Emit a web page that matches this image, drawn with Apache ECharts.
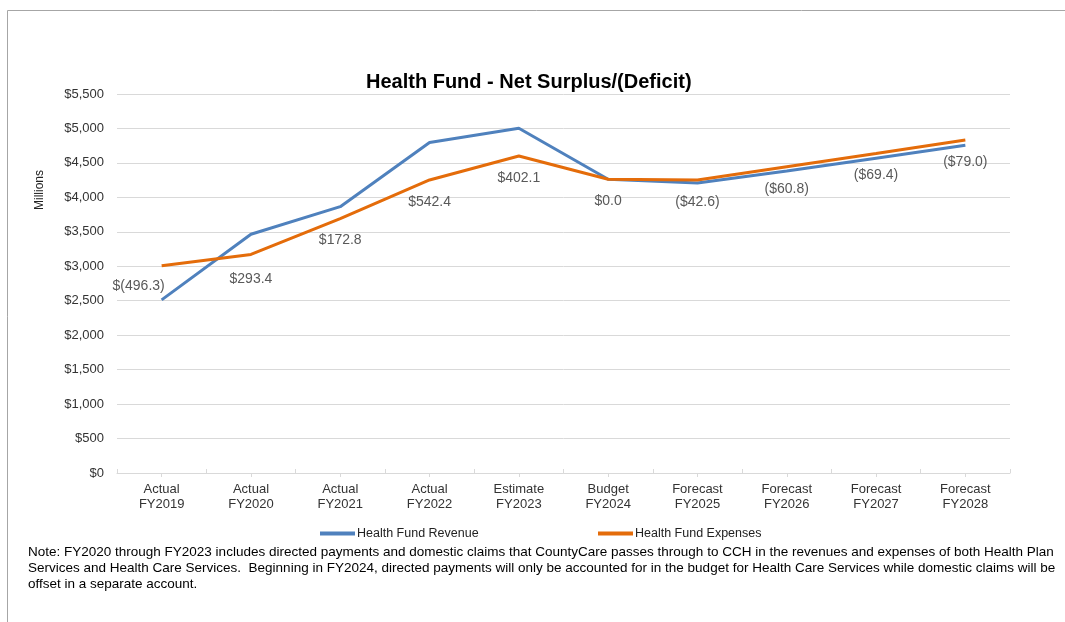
<!DOCTYPE html>
<html>
<head>
<meta charset="utf-8">
<script src="https://cdn.jsdelivr.net/npm/echarts@6/dist/echarts.min.js"></script>
<style>
  html, body { margin: 0; padding: 0; background: #fff; }
  #main { width: 1065px; height: 622px; }
</style>
</head>
<body>
<div id="main"></div>
<script>
// 类别
const categories = ['Actual\nFY2019', 'Actual\nFY2020', 'Actual\nFY2021', 'Actual\nFY2022', 'Estimate\nFY2023',
    'Budget\nFY2024', 'Forecast\nFY2025', 'Forecast\nFY2026', 'Forecast\nFY2027', 'Forecast\nFY2028'];
// 收入/支出 (百万)
const revenue = [2512, 3465, 3865, 4795, 5002, 4262, 4210, 4384, 4569, 4755];
const expenses = [3008, 3172, 3692, 4253, 4600, 4262, 4253, 4445, 4638, 4834];
// 净值标签
const netLabels = ['$(496.3)', '$293.4', '$172.8', '$542.4', '$402.1', '$0.0', '($42.6)', '($60.8)', '($69.4)', '($79.0)'];
// y轴刻度
const yTicks = [0, 500, 1000, 1500, 2000, 2500, 3000, 3500, 4000, 4500, 5000, 5500];

const noteLines = [
    'Note: FY2020 through FY2023 includes directed payments and domestic claims that CountyCare passes through to CCH in the revenues and expenses of both Health Plan',
    'Services and Health Care Services.  Beginning in FY2024, directed payments will only be accounted for in the budget for Health Care Services while domestic claims will be',
    'offset in a separate account.'
];

function money(v) {
    return '$' + v.toLocaleString('en-US');
}

let chart = echarts.init(document.getElementById('main'));

let option = {
    animation: false,
    textStyle: {fontFamily: 'Liberation Sans, Arial, sans-serif'},
    title: {
        text: 'Health Fund - Net Surplus/(Deficit)',
        left: 361,
        top: 67,
        textStyle: {fontSize: 20, fontWeight: 'bold', color: '#000', fontFamily: 'Liberation Sans, Arial, sans-serif'}
    },
    grid: {left: 117, right: 55, top: 94, bottom: 149, containLabel: false},
    legend: [
        {
            data: ['Health Fund Revenue'],
            left: 320, top: 527,
            padding: 0,
            icon: 'rect',
            itemWidth: 35, itemHeight: 4, itemGap: 2,
            textStyle: {fontSize: 12.5, color: '#222', padding: [0, 0, 0, -3]}
        },
        {
            data: ['Health Fund Expenses'],
            left: 598, top: 527,
            padding: 0,
            icon: 'rect',
            itemWidth: 35, itemHeight: 4, itemGap: 2,
            textStyle: {fontSize: 12.5, color: '#222', padding: [0, 0, 0, -3]}
        }
    ],
    xAxis: [
        {
            type: 'category',
            data: categories,
            boundaryGap: true,
            axisLine: {lineStyle: {color: '#d9d9d9', width: 1}},
            axisTick: {show: true, inside: true, length: 4, lineStyle: {color: '#d9d9d9'}},
            axisLabel: {fontSize: 13, color: '#333', lineHeight: 15, margin: 9}
        },
        {
            type: 'category',
            data: categories,
            position: 'bottom',
            boundaryGap: true,
            axisLine: {show: false},
            axisTick: {show: true, alignWithLabel: true, length: 4, lineStyle: {color: '#d9d9d9'}},
            axisLabel: {show: false}
        }
    ],
    yAxis: {
        type: 'value',
        min: yTicks[0],
        max: yTicks[yTicks.length - 1],
        interval: 500,
        axisLine: {show: false},
        axisTick: {show: false},
        splitLine: {lineStyle: {color: '#d9d9d9', width: 1}},
        axisLabel: {fontSize: 13, color: '#333', margin: 13, formatter: money}
    },
    series: [
        {
            name: 'Health Fund Revenue',
            type: 'line',
            data: revenue,
            symbol: 'none',
            lineStyle: {color: '#4F81BD', width: 3},
            itemStyle: {color: '#4F81BD'},
            z: 3
        },
        {
            name: 'Health Fund Expenses',
            type: 'line',
            data: expenses,
            symbol: 'circle',
            symbolSize: 0.01,
            showSymbol: true,
            lineStyle: {color: '#E46C0A', width: 3},
            itemStyle: {color: '#E46C0A'},
            z: 4,
            // 第一、二个标签微调位置
            labelLayout: function (p) {
                if (p.dataIndex == 0) {
                    return {dx: -23, dy: -2, hideOverlap: false};
                }
                if (p.dataIndex == 1) {
                    return {dy: 3, hideOverlap: false};
                }
                return {hideOverlap: false};
            },
            label: {
                show: true,
                position: 'bottom',
                distance: 15,
                fontSize: 14,
                color: '#595959',
                formatter: function (p) {
                    return netLabels[p.dataIndex];
                }
            }
        }
    ],
    graphic: [
        {
            type: 'rect',
            silent: true,
            shape: {x: 7.5, y: 10.5, width: 1200, height: 800},
            style: {fill: 'none', stroke: '#a6a6a6', lineWidth: 1}
        },
        {
            type: 'text',
            x: 40, y: 190,
            rotation: Math.PI / 2,
            style: {text: 'Millions', fill: '#222', align: 'center', verticalAlign: 'middle',
                font: '12px Liberation Sans, Arial, sans-serif'}
        },
        {
            type: 'text',
            left: 28, top: 544,
            style: {text: noteLines.join('\n'), lineHeight: 16, fill: '#000',
                font: '13.5px Liberation Sans, Arial, sans-serif'}
        }
    ]
};

chart.setOption(option);
</script>
</body>
</html>
